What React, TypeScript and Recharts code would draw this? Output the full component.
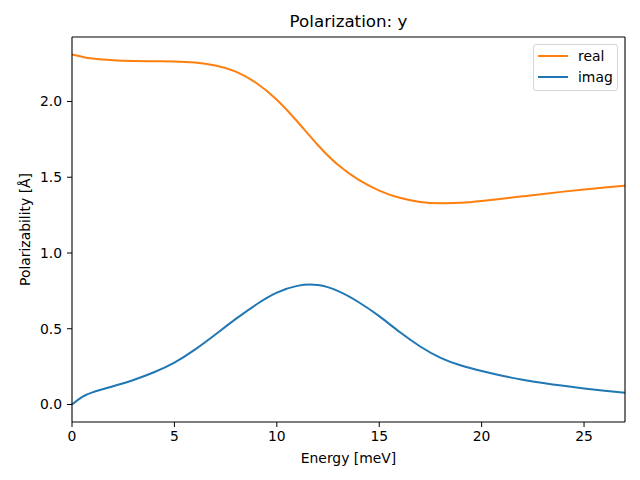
import React from 'react';
import { LineChart, Line, XAxis, YAxis } from 'recharts';

const energy = [0, 0.5, 1, 2, 3, 4, 5, 6, 7, 8, 9, 10, 11, 12, 13, 14, 15, 16, 17, 18, 19, 20, 21, 22, 23, 24, 25, 26, 27];
const realPart = [2.31, 2.295, 2.283, 2.272, 2.267, 2.265, 2.264, 2.257, 2.237, 2.197, 2.122, 2.012, 1.868, 1.713, 1.58, 1.482, 1.412, 1.364, 1.337, 1.328, 1.331, 1.343, 1.358, 1.374, 1.39, 1.405, 1.419, 1.432, 1.445];
const imagPart = [0, 0.05, 0.08, 0.12, 0.162, 0.213, 0.277, 0.362, 0.462, 0.565, 0.66, 0.738, 0.783, 0.788, 0.748, 0.675, 0.583, 0.478, 0.383, 0.308, 0.257, 0.221, 0.19, 0.164, 0.142, 0.123, 0.106, 0.091, 0.077];

const xTicks = [0, 5, 10, 15, 20, 25];
const yTicks = [0, 0.5, 1, 1.5, 2];

const data = energy.map((e, i) => ({ energy: e, real: realPart[i], imag: imagPart[i] }));

const FONT = '"DejaVu Sans", sans-serif';
const ORANGE = '#ff7f0e';
const BLUE = '#1f77b4';

const LegendBox = () => (
  <div
    style={{
      position: 'absolute',
      left: 533,
      top: 44,
      width: 83,
      height: 45,
      border: '1px solid #d6d6d6',
      borderRadius: 3,
      background: 'rgba(255,255,255,0.8)',
      fontFamily: FONT,
      fontSize: 13.9,
      color: '#000',
    }}
  >
    {[
      { name: 'real', color: ORANGE, top: 11 },
      { name: 'imag', color: BLUE, top: 32 },
    ].map((it) => (
      <div key={it.name} style={{ position: 'absolute', left: 4, top: it.top - 9, height: 18, display: 'flex', alignItems: 'center' }}>
        <div style={{ width: 30, height: 2, background: it.color }} />
        <span style={{ marginLeft: 10, lineHeight: '18px' }}>{it.name}</span>
      </div>
    ))}
  </div>
);

export default function App() {
  return (
    <div style={{ position: 'absolute', left: 0, top: 0, width: 640, height: 480, background: '#fff' }}>
      <div
        style={{
          position: 'absolute',
          left: 72,
          width: 553,
          top: 11,
          textAlign: 'center',
          fontFamily: FONT,
          fontSize: 16.7,
          color: '#000',
        }}
      >
        Polarization: y
      </div>
      <LineChart width={640} height={480} data={data} margin={{ top: 36, right: 14, bottom: 0, left: 0 }}>
        <XAxis
          dataKey="energy"
          type="number"
          domain={[0, 27]}
          ticks={xTicks}
          tickFormatter={(v: number) => String(v)}
          height={58}
          tickSize={5}
          tickMargin={4}
          stroke="#000"
          tick={{ fill: '#000', fontSize: 13.9, fontFamily: FONT }}
          axisLine={{ stroke: '#000', strokeWidth: 1.1 }}
          label={{ value: 'Energy [meV]', position: 'insideBottom', offset: 17, fill: '#000', fontSize: 13.9, fontFamily: FONT }}
        />
        <XAxis xAxisId="top" orientation="top" dataKey="energy" type="number" domain={[0, 27]} height={1} tick={false} tickLine={false} stroke="#000" axisLine={{ stroke: '#000', strokeWidth: 1.1 }} />
        <YAxis
          type="number"
          domain={[-0.1155, 2.4255]}
          ticks={yTicks}
          tickFormatter={(v: number) => v.toFixed(1)}
          width={72}
          tickSize={5}
          tickMargin={5}
          stroke="#000"
          tick={{ fill: '#000', fontSize: 13.9, fontFamily: FONT }}
          axisLine={{ stroke: '#000', strokeWidth: 1.1 }}
          label={{ value: 'Polarizability [Å]', angle: -90, position: 'center', dx: -11, fill: '#000', fontSize: 13.9, fontFamily: FONT }}
        />
        <YAxis yAxisId="right" orientation="right" type="number" domain={[-0.1155, 2.4255]} width={1} tick={false} tickLine={false} stroke="#000" axisLine={{ stroke: '#000', strokeWidth: 1.1 }} />
        <Line type="natural" dataKey="real" stroke={ORANGE} strokeWidth={2} dot={false} isAnimationActive={false} />
        <Line type="natural" dataKey="imag" stroke={BLUE} strokeWidth={2} dot={false} isAnimationActive={false} />
      </LineChart>
      <LegendBox />
    </div>
  );
}
